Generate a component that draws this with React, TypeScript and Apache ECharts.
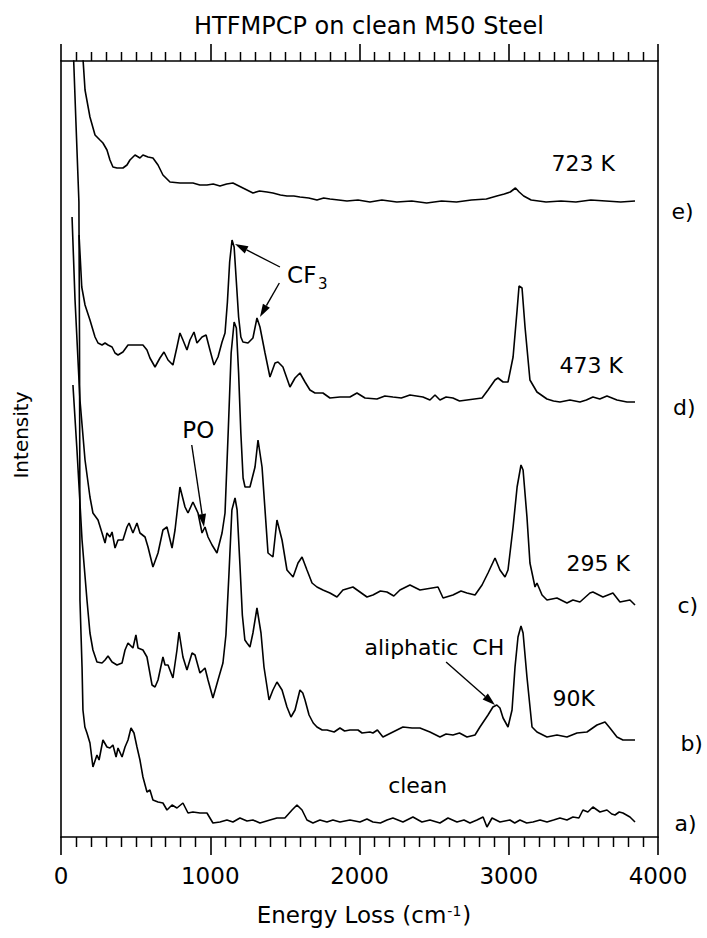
import React, { useEffect, useRef } from "react";
import * as echarts from "echarts";

// HREELS spectra of HTFMPCP on clean M50 steel, offset vertically.
// Each spectrum: [energy loss (cm^-1), intensity above its own baseline]
const clean: [number, number][] = [
  [78, 790], [100, 700], [120, 620], [124, 480], [126, 340], [127, 222], [141, 155], [147, 112], [160, 95],
  [174, 89], [194, 79],
  [214, 55], [241, 67], [255, 62], [268, 72], [281, 82], [308, 75], [328, 74], [348, 77], [369, 65],
  [382, 74], [409, 65], [429, 75], [449, 82], [469, 94], [489, 89], [509, 75], [529, 62], [549, 45],
  [576, 30], [596, 32], [616, 22], [650, 20], [683, 19], [710, 12], [744, 17], [777, 14], [817, 19],
  [851, 9], [884, 10], [931, 9], [978, 9], [1018, -1], [1065, 0], [1112, 2], [1152, 0], [1199, 4],
  [1246, 1], [1286, 2], [1333, -1], [1400, 2], [1447, 4], [1500, 4], [1548, 12], [1581, 17], [1615, 12],
  [1648, 2], [1688, -1], [1735, 2], [1782, 0], [1822, 2], [1869, 0], [1936, 2], [2003, 0], [2050, 3],
  [2090, 0], [2140, -1], [2184, 2], [2224, 4], [2291, 0], [2358, 5], [2418, 0], [2472, 2], [2539, -1],
  [2593, 4], [2653, 0], [2700, 2], [2740, -1], [2787, 2], [2828, 5], [2854, -5], [2888, 4], [2941, 0],
  [3008, 2], [3040, -1], [3075, 2], [3120, -1], [3162, 0], [3210, 2], [3256, 0], [3300, 2], [3343, 4],
  [3390, 2], [3430, 5], [3470, 4], [3497, 12], [3530, 10], [3564, 15], [3611, 10], [3658, 12], [3690, 8],
  [3712, 7], [3740, 10], [3765, 9], [3812, 5], [3846, 0],
];

const k90: [number, number][] = [
  [80, 350], [107, 285], [141, 195], [174, 135], [194, 102], [214, 85], [241, 73], [275, 72], [295, 75],
  [315, 79], [342, 73], [375, 70], [409, 72], [429, 85], [449, 92], [482, 87], [502, 100], [516, 87],
  [549, 85], [576, 78], [610, 50], [630, 48], [650, 55], [683, 78], [697, 70], [717, 70], [750, 57],
  [777, 85], [791, 103], [817, 78], [844, 65], [878, 82], [898, 80], [931, 62], [965, 67], [985, 55],
  [1018, 37], [1052, 55], [1085, 72], [1105, 100], [1125, 160], [1145, 225], [1166, 237], [1180, 225],
  [1199, 170], [1215, 120], [1232, 95], [1246, 92], [1266, 88], [1286, 102], [1313, 127], [1340, 102],
  [1360, 68], [1394, 35], [1420, 45], [1447, 53], [1481, 45], [1514, 28], [1541, 18], [1568, 25],
  [1601, 45], [1620, 42], [1635, 35], [1662, 20], [1690, 12], [1715, 8], [1750, 5], [1782, 5], [1830, 3],
  [1869, 7], [1900, 4], [1936, 5], [1990, 5], [2017, 2], [2070, 3], [2090, 2], [2120, 5], [2157, -2],
  [2224, 3], [2291, 8], [2352, 7], [2405, 7], [2472, 3], [2539, -2], [2580, 1], [2626, 0], [2670, 2],
  [2720, -2], [2774, 0], [2807, 8], [2861, 20], [2894, 28], [2920, 30], [2941, 27], [2962, 17], [2995, 8],
  [3022, 25], [3042, 68], [3062, 98], [3082, 109], [3096, 102], [3122, 58], [3156, 8], [3189, 3],
  [3256, -2], [3323, 0], [3390, -2], [3457, 2], [3524, 3], [3591, 10], [3645, 13], [3678, 7], [3725, -2],
  [3765, -5], [3812, -5], [3846, -5],
];

const k295: [number, number][] = [
  [74, 386], [94, 303], [127, 203], [161, 143], [194, 106], [214, 90], [248, 83], [275, 70], [295, 60],
  [308, 70], [328, 66], [342, 71], [362, 55], [382, 63], [415, 63], [442, 76], [456, 80], [482, 70],
  [509, 80], [529, 70], [563, 66], [583, 56], [616, 36], [650, 50], [683, 73], [710, 76], [744, 55],
  [764, 73], [797, 116], [831, 96], [851, 90], [884, 101], [918, 90], [945, 70], [965, 76], [985, 66],
  [1012, 58], [1045, 50], [1079, 70], [1099, 90], [1120, 170], [1140, 250], [1160, 281], [1175, 275],
  [1190, 230], [1205, 170], [1220, 125], [1233, 116], [1266, 116], [1300, 136], [1320, 163], [1347, 136],
  [1387, 50], [1420, 46], [1447, 83], [1481, 63], [1514, 33], [1555, 26], [1588, 40], [1615, 46],
  [1648, 33], [1682, 20], [1715, 16], [1755, 13], [1802, 10], [1849, 6], [1889, 13], [1956, 16],
  [2003, 11], [2050, 6], [2090, 8], [2140, 12], [2184, 11], [2230, 7], [2271, 13], [2338, 18], [2405, 13],
  [2486, 15], [2526, 16], [2560, 5], [2626, 8], [2680, 12], [2720, 10], [2774, 8], [2821, 18], [2861, 30],
  [2908, 45], [2941, 33], [2975, 26], [2995, 33], [3029, 76], [3056, 116], [3082, 138], [3096, 133],
  [3122, 86], [3142, 40], [3176, 16], [3189, 20], [3223, 8], [3256, 3], [3323, 5], [3390, 0], [3430, 3],
  [3477, 1], [3544, 10], [3564, 11], [3631, 6], [3698, 10], [3745, 1], [3812, 3], [3846, -2],
];

const k473: [number, number][] = [
  [121, 167], [139, 115], [161, 97], [194, 82], [228, 65], [248, 59], [275, 57], [295, 59],
  [315, 57], [342, 55], [362, 49], [382, 47], [415, 50], [449, 57], [482, 57], [516, 57], [549, 57],
  [576, 52], [596, 44], [630, 35], [663, 44], [690, 50], [717, 42], [750, 37], [777, 55], [797, 69],
  [817, 62], [844, 52], [864, 62], [891, 70], [911, 59], [945, 65], [972, 67], [998, 52], [1025, 37],
  [1052, 45], [1079, 60], [1099, 69], [1115, 100], [1130, 140], [1146, 162], [1160, 155], [1175, 120],
  [1190, 85], [1205, 65], [1219, 60], [1253, 59], [1286, 64], [1313, 84], [1333, 75], [1367, 49],
  [1400, 25], [1434, 39], [1454, 40], [1487, 35], [1534, 15], [1568, 24], [1601, 29], [1635, 20],
  [1668, 12], [1702, 9], [1755, 9], [1802, 4], [1869, 5], [1936, 5], [1983, 9], [2037, 4], [2117, 3],
  [2170, 6], [2224, 5], [2280, 4], [2338, 7], [2425, 5], [2472, 2], [2506, 7], [2539, 2], [2580, 5],
  [2626, 4], [2670, 1], [2720, 2], [2821, 4], [2861, 12], [2908, 22], [2928, 24], [2962, 20], [2995, 20],
  [3029, 45], [3056, 92], [3069, 116], [3089, 114], [3109, 75], [3142, 22], [3189, 10], [3256, 3],
  [3300, 1], [3343, 0], [3410, 2], [3477, 0], [3520, 2], [3564, 5], [3610, 3], [3658, 6], [3725, 2],
  [3792, 0], [3846, 0],
];

const k723: [number, number][] = [
  [140, 160], [161, 112], [194, 85], [228, 67], [261, 62], [281, 59], [308, 52], [328, 42], [348, 35],
  [375, 34], [415, 34], [442, 37], [462, 42], [496, 47], [529, 44], [549, 47], [583, 45], [616, 44],
  [650, 37], [683, 27], [730, 20], [797, 19], [884, 19], [930, 17], [978, 17], [1020, 18], [1065, 16],
  [1110, 18], [1152, 19], [1219, 14], [1286, 9], [1330, 11], [1380, 10], [1420, 9], [1470, 7], [1514, 6],
  [1560, 6], [1601, 5], [1660, 4], [1715, 2], [1760, 4], [1802, 3], [1860, 2], [1916, 1], [1990, 2],
  [2070, 0], [2150, 2], [2250, 0], [2350, 1], [2450, -1], [2550, 1], [2650, 0], [2750, 2], [2850, 3],
  [2920, 6], [2970, 8], [3010, 10], [3045, 14], [3070, 10], [3100, 6], [3150, 2], [3250, 0], [3350, 1],
  [3450, 0], [3550, 2], [3650, 1], [3750, 0], [3846, 1],
];

const spectra = [clean, k90, k295, k473, k723];
const spectrumNames = ["clean", "90K", "295 K", "473 K", "723 K"];
// vertical offsets of the stacked spectra (intensity units)
const offsets = [15, 102, 234, 435, 635];
const panelTags = ["a)", "b)", "c)", "d)", "e)"];

// label anchors relative to each spectrum's baseline: [energy loss, intensity]
const tempLabelAnchors: [number, number][] = [[2390, 37], [3578, 37], [3812, 40], [3765, 37], [3712, 39]];
const tagAnchors: [number, number][] = [[4110, -1], [4150, -8], [4130, -2], [4100, -5], [4090, -9]];

// arrows: [from, to] in data units (absolute intensity)
const arrows: [[number, number], [number, number]][] = [
  [[1467, 570], [1166, 593]],
  [[1463, 554], [1333, 520]],
  [[876, 392], [958, 310]],
  [[2580, 175], [2908, 132]],
];
const cf3Anchor: [number, number] = [1515, 562];
const poAnchor: [number, number] = [920, 407];
const chAnchor: [number, number] = [2970, 190];

const xTicks = [0, 1000, 2000, 3000, 4000];
const xMajorStep = 1000;
const xMinorStep = 100;
const yMax = 776;

const FONT = "'DejaVu Sans', 'Liberation Sans', Arial, sans-serif";

export default function App() {
  const ref = useRef<HTMLDivElement>(null);

  useEffect(() => {
    if (!ref.current) return;
    const chart = echarts.init(ref.current, undefined, { renderer: "svg" });

    const axisLine = { show: true, onZero: false, lineStyle: { color: "#000", width: 1.6 } };
    const tickStyle = { color: "#000", width: 1.6 };

    const xAxisDef = (position: "top" | "bottom", tickLen: number) => ({
      type: "value",
      position,
      min: xTicks[0],
      max: xTicks[xTicks.length - 1],
      interval: xMajorStep,
      axisLine,
      axisTick: { show: true, inside: false, length: tickLen, lineStyle: tickStyle },
      axisLabel:
        position === "bottom"
          ? {
              show: true,
              margin: 27,
              fontFamily: FONT,
              fontSize: 23,
              color: "#000",
              formatter: (v: number) => String(v),
            }
          : { show: false },
      splitLine: { show: false },
    });

    const yAxisDef = (position: "left" | "right") => ({
      type: "value",
      position,
      min: 0,
      max: yMax,
      axisLine,
      axisTick: { show: false },
      axisLabel: { show: false },
      splitLine: { show: false },
    });

    chart.setOption({
      animation: false,
      backgroundColor: "#fff",
      title: {
        text: "HTFMPCP on clean M50 Steel",
        left: 364,
        textAlign: "center",
        top: 9,
        textStyle: { fontFamily: FONT, fontSize: 24, fontWeight: "normal", color: "#000" },
      },
      grid: { left: 61, right: 49, top: 61, bottom: 101, containLabel: false },
      xAxis: [xAxisDef("bottom", 18), xAxisDef("top", 17)],
      yAxis: [yAxisDef("left"), yAxisDef("right")],
      series: spectra.map((s, i) => ({
        name: spectrumNames[i],
        type: "line",
        xAxisIndex: 0,
        yAxisIndex: 0,
        clip: true,
        showSymbol: false,
        symbol: "none",
        lineStyle: { color: "#000", width: 1.6 },
        data: s.map(([x, v]) => [x, v + offsets[i]]),
      })),
    });

    const px = (p: [number, number]) =>
      chart.convertToPixel({ xAxisIndex: 0, yAxisIndex: 0 }, p) as number[];

    const text = (
      t: string,
      p: number[],
      size: number,
      align: string = "left",
      vAlign: string = "middle"
    ) => ({
      type: "text",
      x: p[0],
      y: p[1],
      silent: true,
      style: { text: t, fontFamily: FONT, fontSize: size, fill: "#000", align, verticalAlign: vAlign },
    });

    const graphics: any[] = [];

    // 100 cm^-1 minor ticks on the bottom and top frame edges, placed through the x scale
    const bottomY = px([0, 0])[1];
    const topY = px([0, yMax])[1];
    for (let v = xTicks[0] + xMinorStep; v < xTicks[xTicks.length - 1]; v += xMinorStep) {
      if (v % xMajorStep === 0) continue;
      const x = Math.round(px([v, 0])[0]) + 0.5;
      graphics.push({
        type: "line",
        silent: true,
        shape: { x1: x, y1: bottomY, x2: x, y2: bottomY + 10 },
        style: { stroke: "#000", lineWidth: 1.5 },
      });
      graphics.push({
        type: "line",
        silent: true,
        shape: { x1: x, y1: topY, x2: x, y2: topY - 9 },
        style: { stroke: "#000", lineWidth: 1.5 },
      });
    }

    // temperature labels and panel tags
    spectrumNames.forEach((name, i) => {
      const a = tempLabelAnchors[i];
      graphics.push(text(name, px([a[0], a[1] + offsets[i]]), 22, i === 0 ? "center" : "right"));
      const t = tagAnchors[i];
      graphics.push(text(panelTags[i], px([t[0], t[1] + offsets[i]]), 22, "left"));
    });

    // arrows with solid heads
    arrows.forEach(([from, to]) => {
      const a = px(from);
      const b = px(to);
      const dx = b[0] - a[0];
      const dy = b[1] - a[1];
      const len = Math.hypot(dx, dy);
      const ux = dx / len;
      const uy = dy / len;
      const head = 13;
      const half = 4;
      const bx = b[0] - ux * head;
      const by = b[1] - uy * head;
      graphics.push({
        type: "line",
        silent: true,
        shape: { x1: a[0], y1: a[1], x2: bx, y2: by },
        style: { stroke: "#000", lineWidth: 1.4 },
      });
      graphics.push({
        type: "polygon",
        silent: true,
        shape: {
          points: [
            [b[0], b[1]],
            [bx - uy * half, by + ux * half],
            [bx + uy * half, by - ux * half],
          ],
        },
        style: { fill: "#000" },
      });
    });

    // peak assignments
    const cf = px(cf3Anchor);
    graphics.push(text("CF", cf, 23, "left"));
    graphics.push(text("3", [cf[0] + 31, cf[1] + 9], 15, "left"));
    graphics.push(text("PO", px(poAnchor), 23, "center"));
    graphics.push(text("aliphatic  CH", px(chAnchor), 22, "right"));

    // axis titles
    graphics.push({
      type: "text",
      x: 21,
      y: 435,
      rotation: Math.PI / 2,
      silent: true,
      style: { text: "Intensity", fontFamily: FONT, fontSize: 20, fill: "#000", align: "center", verticalAlign: "middle" },
    });
    graphics.push({
      type: "text",
      x: 364,
      y: 915,
      silent: true,
      style: {
        text: "{m|Energy Loss (cm}{s|-1}{m|)}",
        align: "center",
        verticalAlign: "middle",
        rich: {
          m: { fontFamily: FONT, fontSize: 23, fill: "#000", verticalAlign: "bottom" },
          s: { fontFamily: FONT, fontSize: 14, fill: "#000", verticalAlign: "top", padding: [0, 1, 0, 1] },
        },
      },
    });

    chart.setOption({ graphic: graphics });

    return () => chart.dispose();
  }, []);

  return (
    <div
      ref={ref}
      style={{ position: "fixed", left: 0, top: 0, width: 707, height: 938 }}
    />
  );
}
